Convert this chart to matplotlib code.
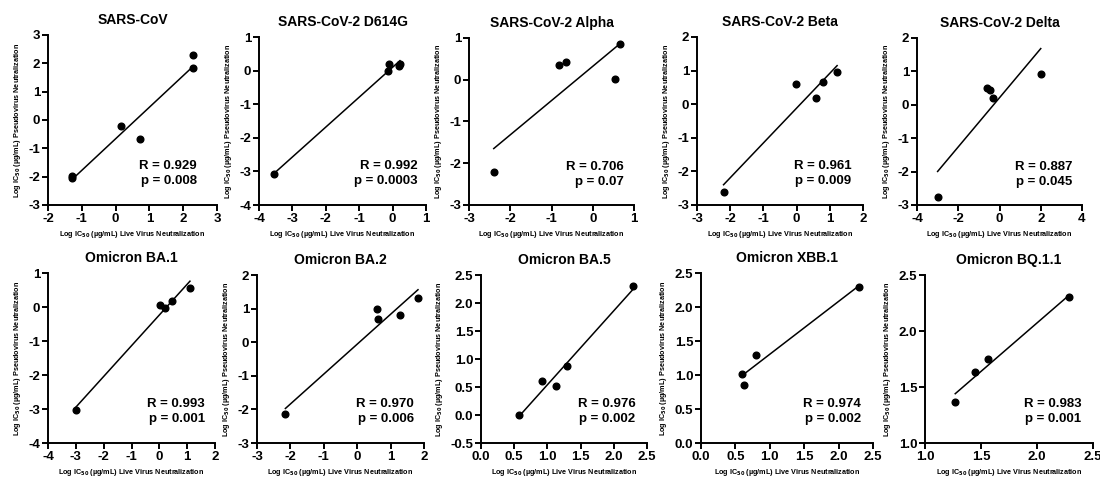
import numpy as np
import matplotlib
matplotlib.use("Agg")
import matplotlib.pyplot as plt

plt.rcParams["font.family"] = ["Liberation Sans", "DejaVu Sans"]
plt.rcParams["font.weight"] = "bold"

# ── data ────────────────────────────────────────────────────────────────────
titles = ["SARS-CoV", "SARS-CoV-2 D614G", "SARS-CoV-2 Alpha", "SARS-CoV-2 Beta",
          "SARS-CoV-2 Delta", "Omicron BA.1", "Omicron BA.2", "Omicron BA.5",
          "Omicron XBB.1", "Omicron BQ.1.1"]

x_sars = [2.28, 2.30, 0.15, 0.71, -1.30, -1.28]
y_sars = [2.30, 1.82, -0.22, -0.68, -1.96, -2.05]

x_d614g = [-3.54, -0.10, -0.15, 0.18, 0.22]
y_d614g = [-3.07, 0.20, 0.00, 0.15, 0.20]

x_alpha = [0.65, -0.82, -0.64, 0.53, -2.40]
y_alpha = [0.85, 0.35, 0.42, 0.01, -2.22]

x_beta = [-0.02, 0.58, 0.80, 1.22, -2.20]
y_beta = [0.60, 0.17, 0.67, 0.97, -2.60]

x_delta = [-0.60, -0.45, -0.30, 2.00, -3.00]
y_delta = [0.50, 0.45, 0.20, 0.93, -2.75]

x_ba1 = [0.02, 0.22, 0.46, 1.10, -3.00]
y_ba1 = [0.05, -0.03, 0.19, 0.55, -3.02]

x_ba2 = [-2.15, 0.60, 0.62, 1.28, 1.82]
y_ba2 = [-2.15, 0.98, 0.69, 0.81, 1.31]

x_ba5 = [0.57, 0.92, 1.13, 1.30, 2.29]
y_ba5 = [0.00, 0.61, 0.52, 0.87, 2.30]

x_xbb = [0.60, 0.62, 0.80, 2.30]
y_xbb = [1.02, 0.85, 1.30, 2.30]

x_bq = [1.27, 1.45, 1.56, 2.29]
y_bq = [1.37, 1.63, 1.75, 2.30]

xs = [x_sars, x_d614g, x_alpha, x_beta, x_delta, x_ba1, x_ba2, x_ba5, x_xbb, x_bq]
ys = [y_sars, y_d614g, y_alpha, y_beta, y_delta, y_ba1, y_ba2, y_ba5, y_xbb, y_bq]

r_vals = ["0.929", "0.992", "0.706", "0.961", "0.887",
          "0.993", "0.970", "0.976", "0.974", "0.983"]
p_vals = ["0.008", "0.0003", "0.07", "0.009", "0.045",
          "0.001", "0.006", "0.002", "0.002", "0.001"]

x_lims = [(-2, 3), (-4, 1), (-3, 1), (-3, 2), (-4, 4),
          (-4, 2), (-3, 2), (0, 2.5), (0, 2.5), (1, 2.5)]
y_lims = [(-3, 3), (-4, 1), (-3, 1), (-3, 2), (-3, 2),
          (-4, 1), (-3, 2), (-0.5, 2.5), (0, 2.5), (1, 2.5)]
x_steps = [1, 1, 1, 1, 2, 1, 1, 0.5, 0.5, 0.5]
y_steps = [1, 1, 1, 1, 1, 1, 1, 0.5, 0.5, 0.5]

# axes boxes in pixels: left, right, top, bottom
boxes = [(48, 217, 35, 205), (259, 426, 37, 205), (469, 634, 38, 205),
         (697, 863, 37, 205), (917, 1082, 38, 205),
         (48, 215, 273, 443), (257, 424, 275, 443), (481, 647, 275, 443),
         (701, 873, 273, 443), (925, 1093, 275, 443)]
text_x = [0.88, 0.95, 0.94, 0.93, 0.94, 0.94, 0.94, 0.93, 0.93, 0.93]

W, H = 1100, 480
XLAB = "Log IC$_{\\mathbf{50}}$ (µg/mL) Live Virus Neutralization"
YLAB = "Log IC$_{\\mathbf{50}}$ (µg/mL) Pseudovirus Neutralization"

fig = plt.figure(figsize=(W / 100, H / 100), dpi=100)

for i in range(10):
    l, r, t, b = boxes[i]
    ax = fig.add_axes([l / W, 1 - b / H, (r - l) / W, (b - t) / H])
    x = np.array(xs[i]); y = np.array(ys[i])

    # linear fit drawn over the data range
    k, c = np.polyfit(x, y, 1)
    xx = np.array([x.min(), x.max()])
    ax.plot(xx, k * xx + c, color="black", lw=1.1, zorder=2)
    ax.plot(x, y, "o", color="black", ms=4.8, zorder=3, clip_on=False)

    ax.set_xlim(*x_lims[i]); ax.set_ylim(*y_lims[i])
    ax.set_xticks(np.arange(x_lims[i][0], x_lims[i][1] + 1e-9, x_steps[i]))
    ax.set_yticks(np.arange(y_lims[i][0], y_lims[i][1] + 1e-9, y_steps[i]))
    fx = "{:.1f}" if x_steps[i] < 1 else "{:.0f}"
    fy = "{:.1f}" if y_steps[i] < 1 else "{:.0f}"
    ax.set_xticklabels([fx.format(v) for v in ax.get_xticks()])
    ax.set_yticklabels([fy.format(v) for v in ax.get_yticks()])

    for s in ["top", "right"]:
        ax.spines[s].set_visible(False)
    for s in ["left", "bottom"]:
        ax.spines[s].set_linewidth(1.4)
    ax.tick_params(direction="out", length=4, width=1.4, labelsize=9.5, pad=1.5)
    for lab in ax.get_xticklabels() + ax.get_yticklabels():
        lab.set_fontweight("bold")

    ax.set_title(titles[i], fontsize=10, fontweight="bold", pad=8)
    ax.set_xlabel(XLAB, fontsize=5.2, fontweight="bold", labelpad=3)
    ax.set_ylabel(YLAB, fontsize=5.2, fontweight="bold", labelpad=4)

    ax.text(text_x[i], 0.23, f"R = {r_vals[i]}", transform=ax.transAxes,
            ha="right", va="center", fontsize=9.5, fontweight="bold")
    ax.text(text_x[i], 0.14, f"p = {p_vals[i]}", transform=ax.transAxes,
            ha="right", va="center", fontsize=9.5, fontweight="bold")

fig.savefig("out.png", dpi=100)
